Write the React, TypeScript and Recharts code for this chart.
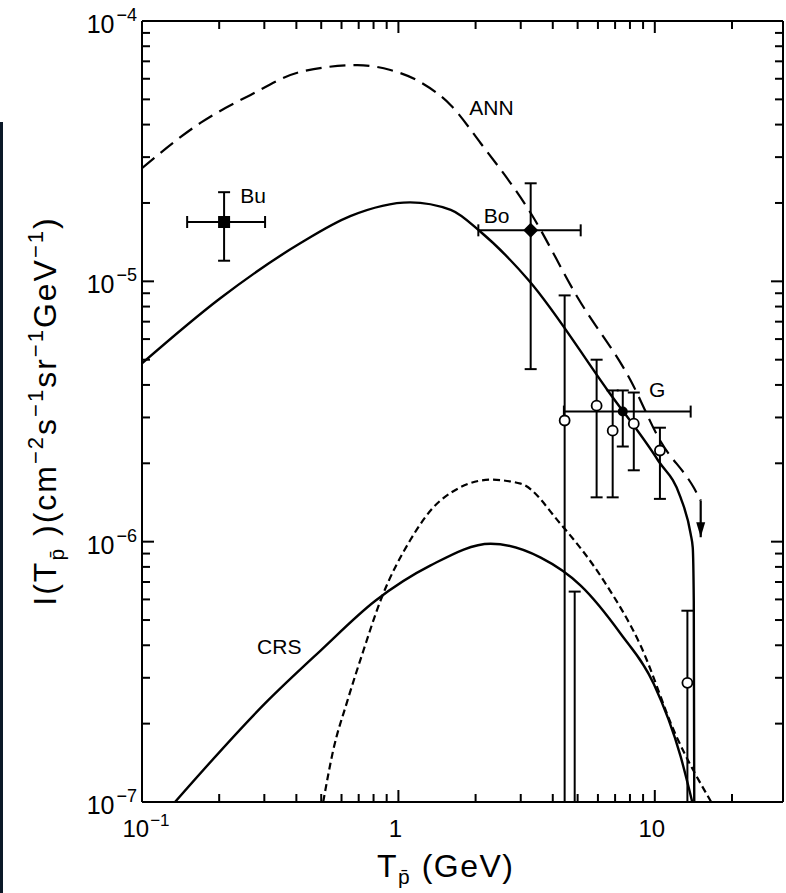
import React from "react";
import { ComposedChart, Line, Scatter, XAxis, YAxis, ErrorBar } from "recharts";

const FONT = '"Liberation Sans", Arial, Helvetica, sans-serif';

// axis ticks (major + minor, log decades)
const xTicks = [
  0.1, 0.2, 0.3, 0.4, 0.5, 0.6, 0.7, 0.8, 0.9,
  1, 2, 3, 4, 5, 6, 7, 8, 9,
  10, 20,
];
const yTicks = [
  1e-7, 2e-7, 3e-7, 4e-7, 5e-7, 6e-7, 7e-7, 8e-7, 9e-7,
  1e-6, 2e-6, 3e-6, 4e-6, 5e-6, 6e-6, 7e-6, 8e-6, 9e-6,
  1e-5, 2e-5, 3e-5, 4e-5, 5e-5, 6e-5, 7e-5, 8e-5, 9e-5,
  1e-4,
];
const xMajor = [0.1, 1, 10];
const xMajorBase = ["10", "1", "10"];
const xMajorExp = ["−1", "", ""];
const yMajor = [1e-7, 1e-6, 1e-5, 1e-4];
const yMajorExp = ["−7", "−6", "−5", "−4"];

// model curves [T (GeV), flux]
const annCurve = [
  [0.1, 2.72e-5], [0.169, 4.06e-5], [0.264, 5.19e-5], [0.414, 6.37e-5],
  [0.692, 6.77e-5], [0.931, 6.48e-5], [1.22, 5.82e-5], [1.6, 4.75e-5],
  [2.09, 3.4e-5], [3.28, 1.83e-5], [5.0, 8.67e-6], [8.05, 4.16e-6],
  [10.5, 2.44e-6], [14.2, 1.61e-6], [15.1, 1.44e-6],
];
const annArrow = [[15.1, 1.44e-6], [15.1, 1.04e-6]];
const totalCurve = [
  [0.1, 4.84e-6], [0.202, 8.61e-6], [0.414, 1.4e-5], [0.649, 1.78e-5],
  [1.11, 2.01e-5], [1.6, 1.88e-5], [2.09, 1.55e-5], [3.22, 1.01e-5],
  [6.55, 3.81e-6], [10.3, 2.05e-6], [12.6, 1.48e-6], [13.8, 1.07e-6],
  [14.06, 9.48e-7], [14.19, 5.93e-7], [14.25, 1e-7],
];
const crsCurve = [
  [0.1345, 1e-7], [0.308, 2.44e-7], [0.496, 3.81e-7], [0.813, 5.93e-7],
  [1.33, 8.09e-7], [2.29, 9.82e-7], [3.59, 8.68e-7], [5.14, 6.78e-7],
  [7.36, 4.43e-7], [9.91, 2.84e-7], [12.6, 1.5e-7], [14.0, 1e-7],
];
const secCurve = [
  [0.509, 1e-7], [0.556, 1.57e-7], [0.632, 2.44e-7], [0.73, 3.81e-7],
  [0.851, 5.93e-7], [1.11, 1.01e-6], [1.46, 1.44e-6], [2.29, 1.73e-6],
  [3.0, 1.67e-6], [4.29, 1.17e-6], [6.32, 7.08e-7], [8.81, 3.98e-7],
  [12.1, 1.8e-7], [16.6, 1e-7],
];

// measurements [x, y, xLo, xHi, yLo, yHi]
const buPoint = [[0.209, 1.69e-5, 0.15, 0.302, 1.2e-5, 2.2e-5]];
const boPoint = [[3.28, 1.57e-5, 2.05, 5.14, 4.6e-6, 2.38e-5]];
const gPoint = [[7.5, 3.16e-6, 4.42, 13.8, 2.32e-6, 3.81e-6]];
// open circles [x, y, yLo, yHi]
const openPoints = [
  [4.45, 2.92e-6, 1e-7, 8.83e-6],
  [5.93, 3.33e-6, 1.48e-6, 5.0e-6],
  [6.85, 2.67e-6, 1.48e-6, 3.81e-6],
  [8.28, 2.84e-6, 1.88e-6, 3.74e-6],
  [10.47, 2.24e-6, 1.46e-6, 2.74e-6],
  [13.4, 2.87e-7, 1e-7, 5.43e-7],
];
// bar with its point below the axis
const limitBars = [[4.87, 1e-7, 1e-7, 6.43e-7]];

const labels = [
  [1.89, 4.35e-5, "ANN"],
  [0.2415, 2.0e-5, "Bu"],
  [2.15, 1.67e-5, "Bo"],
  [9.49, 3.58e-6, "G"],
  [0.281, 3.71e-7, "CRS"],
];

const toXY = (arr: number[][]) => arr.map(([x, y]) => ({ x, y }));
const withErr = (arr: number[][]) =>
  arr.map(([x, y, xLo, xHi, yLo, yHi]) => ({
    x, y, ex: [x - xLo, xHi - x], ey: [y - yLo, yHi - y],
  }));
const withYErr = (arr: number[][]) =>
  arr.map(([x, y, yLo, yHi]) => ({ x, y, ey: [y - yLo, yHi - y] }));

const near = (a: number, b: number) => Math.abs(a - b) / b < 1e-6;

const LeftTick = (p: any) => {
  const i = yMajor.findIndex((v) => near(p.payload.value, v));
  const len = i >= 0 ? 12 : 8;
  return (
    <g>
      <line x1={p.x} y1={p.y} x2={p.x + len} y2={p.y} stroke="#000" strokeWidth={2} />
      {i >= 0 && (
        <text x={p.x - 5} y={p.y + 12} textAnchor="end" fontFamily={FONT} fill="#000">
          <tspan fontSize={25}>10</tspan>
          <tspan fontSize={18} dy={-12} dx={2}>{yMajorExp[i]}</tspan>
        </text>
      )}
    </g>
  );
};
const RightTick = (p: any) => {
  const i = yMajor.findIndex((v) => near(p.payload.value, v));
  const len = i >= 0 ? 12 : 8;
  return <line x1={p.x} y1={p.y} x2={p.x - len} y2={p.y} stroke="#000" strokeWidth={2} />;
};
const BottomTick = (p: any) => {
  const i = xMajor.findIndex((v) => near(p.payload.value, v));
  const len = i >= 0 ? 12 : 8;
  return (
    <g>
      <line x1={p.x} y1={p.y} x2={p.x} y2={p.y - len} stroke="#000" strokeWidth={2} />
      {i >= 0 && (
        <text x={p.x + (xMajorExp[i] ? 4 : -3)} y={p.y + 35} textAnchor="middle" fontFamily={FONT} fill="#000">
          <tspan fontSize={24}>{xMajorBase[i]}</tspan>
          {xMajorExp[i] && <tspan fontSize={17} dy={-11} dx={1}>{xMajorExp[i]}</tspan>}
        </text>
      )}
    </g>
  );
};
const TopTick = (p: any) => {
  const i = xMajor.findIndex((v) => near(p.payload.value, v));
  const len = i >= 0 ? 12 : 8;
  return <line x1={p.x} y1={p.y} x2={p.x} y2={p.y + len} stroke="#000" strokeWidth={2} />;
};

const squareShape = (p: any) => <rect x={p.cx - 6} y={p.cy - 6} width={12} height={12} fill="#000" />;
const diamondShape = (p: any) => (
  <path d={`M${p.cx},${p.cy - 7.5}L${p.cx + 7.5},${p.cy}L${p.cx},${p.cy + 7.5}L${p.cx - 7.5},${p.cy}Z`} fill="#000" />
);
const dotShape = (p: any) => <circle cx={p.cx} cy={p.cy} r={5} fill="#000" />;
const openShape = (p: any) => <circle cx={p.cx} cy={p.cy} r={5} fill="#fff" stroke="#000" strokeWidth={1.8} />;
const noShape = () => <g />;
const labelShape = (p: any) => (
  <text x={p.cx} y={p.cy} fontSize={21} fontFamily={FONT} fill="#000">{p.payload.text}</text>
);
const arrowDot = (p: any) =>
  p.index === 1 ? (
    <path key="arrow" d={`M${p.cx},${p.cy}L${p.cx - 4.5},${p.cy - 15}L${p.cx + 4.5},${p.cy - 15}Z`} fill="#000" />
  ) : (
    <g key={`a${p.index}`} />
  );

const axisLine = { stroke: "#000", strokeWidth: 2 };
const errProps = { stroke: "#000", strokeWidth: 2, width: 6 };

export default function App() {
  return (
    <div style={{ position: "absolute", left: 0, top: 0, width: 786, height: 893, background: "#fff" }}>
      <div style={{ position: "absolute", left: 0, top: 122, width: 3, height: 771, background: "#0b1828" }} />
      <ComposedChart width={786} height={893} margin={{ top: 0, right: 0, bottom: 0, left: 0 }}>
        <XAxis
          xAxisId="b" dataKey="x" type="number" scale="log" domain={[0.1, 31.62]} allowDataOverflow
          ticks={xTicks} interval={0} tick={BottomTick} tickLine={false} tickSize={0} tickMargin={0}
          axisLine={axisLine} height={91} orientation="bottom"
        />
        <XAxis
          xAxisId="t" dataKey="x" type="number" scale="log" domain={[0.1, 31.62]} allowDataOverflow
          ticks={xTicks} interval={0} tick={TopTick} tickLine={false} tickSize={0} tickMargin={0}
          axisLine={axisLine} height={21} orientation="top"
        />
        <YAxis
          yAxisId="l" dataKey="y" type="number" scale="log" domain={[1e-7, 1e-4]} allowDataOverflow
          ticks={yTicks} interval={0} tick={LeftTick} tickLine={false} tickSize={0} tickMargin={0}
          axisLine={axisLine} width={142} orientation="left"
        />
        <YAxis
          yAxisId="r" dataKey="y" type="number" scale="log" domain={[1e-7, 1e-4]} allowDataOverflow
          ticks={yTicks} interval={0} tick={RightTick} tickLine={false} tickSize={0} tickMargin={0}
          axisLine={axisLine} width={3} orientation="right"
        />

        <Line xAxisId="b" yAxisId="l" data={toXY(annCurve)} dataKey="y" type="monotone" stroke="#000"
          strokeWidth={2.2} strokeDasharray="16 8" dot={false} isAnimationActive={false} />
        <Line xAxisId="b" yAxisId="l" data={toXY(annArrow)} dataKey="y" type="linear" stroke="#000"
          strokeWidth={2.2} dot={arrowDot} isAnimationActive={false} />
        <Line xAxisId="b" yAxisId="l" data={toXY(totalCurve)} dataKey="y" type="monotone" stroke="#000"
          strokeWidth={2.4} dot={false} isAnimationActive={false} />
        <Line xAxisId="b" yAxisId="l" data={toXY(crsCurve)} dataKey="y" type="monotone" stroke="#000"
          strokeWidth={2.4} dot={false} isAnimationActive={false} />
        <Line xAxisId="b" yAxisId="l" data={toXY(secCurve)} dataKey="y" type="monotone" stroke="#000"
          strokeWidth={2.2} strokeDasharray="7 4" dot={false} isAnimationActive={false} />

        <Scatter xAxisId="b" yAxisId="l" data={withYErr(limitBars)} dataKey="y" shape={noShape} isAnimationActive={false}>
          <ErrorBar dataKey="ey" direction="y" {...errProps} />
        </Scatter>
        <Scatter xAxisId="b" yAxisId="l" data={withYErr(openPoints)} dataKey="y" shape={openShape} isAnimationActive={false}>
          <ErrorBar dataKey="ey" direction="y" {...errProps} />
        </Scatter>
        <Scatter xAxisId="b" yAxisId="l" data={withErr(gPoint)} dataKey="y" shape={dotShape} isAnimationActive={false}>
          <ErrorBar dataKey="ey" direction="y" {...errProps} />
          <ErrorBar dataKey="ex" direction="x" {...errProps} />
        </Scatter>
        <Scatter xAxisId="b" yAxisId="l" data={withErr(boPoint)} dataKey="y" shape={diamondShape} isAnimationActive={false}>
          <ErrorBar dataKey="ey" direction="y" {...errProps} />
          <ErrorBar dataKey="ex" direction="x" {...errProps} />
        </Scatter>
        <Scatter xAxisId="b" yAxisId="l" data={withErr(buPoint)} dataKey="y" shape={squareShape} isAnimationActive={false}>
          <ErrorBar dataKey="ey" direction="y" {...errProps} />
          <ErrorBar dataKey="ex" direction="x" {...errProps} />
        </Scatter>
        <Scatter xAxisId="b" yAxisId="l" data={labels.map(([x, y, text]) => ({ x, y, text }))} dataKey="y"
          shape={labelShape} isAnimationActive={false} />
      </ComposedChart>

      <svg width={786} height={893} style={{ position: "absolute", left: 0, top: 0, pointerEvents: "none" }}>
        <text transform="rotate(-90 56 411)" x={56} y={411} textAnchor="middle" fontSize={32}
          letterSpacing={2} fontFamily={FONT} fill="#000">
          <tspan>I(T</tspan>
          <tspan fontSize={21} dy={8}>p̄</tspan>
          <tspan dy={-8}> )(cm</tspan>
          <tspan fontSize={22} dy={-13}>−2</tspan>
          <tspan dy={13}>s</tspan>
          <tspan fontSize={22} dy={-13}>−1</tspan>
          <tspan dy={13}>sr</tspan>
          <tspan fontSize={22} dy={-13}>−1</tspan>
          <tspan dy={13}>GeV</tspan>
          <tspan fontSize={22} dy={-13}>−1</tspan>
          <tspan dy={13}>)</tspan>
        </text>
        <text x={377} y={877} fontSize={32} letterSpacing={1.5} fontFamily={FONT} fill="#000">
          <tspan>T</tspan>
          <tspan fontSize={21} dy={7}>p̄</tspan>
          <tspan dy={-7}> (GeV)</tspan>
        </text>
      </svg>
    </div>
  );
}
